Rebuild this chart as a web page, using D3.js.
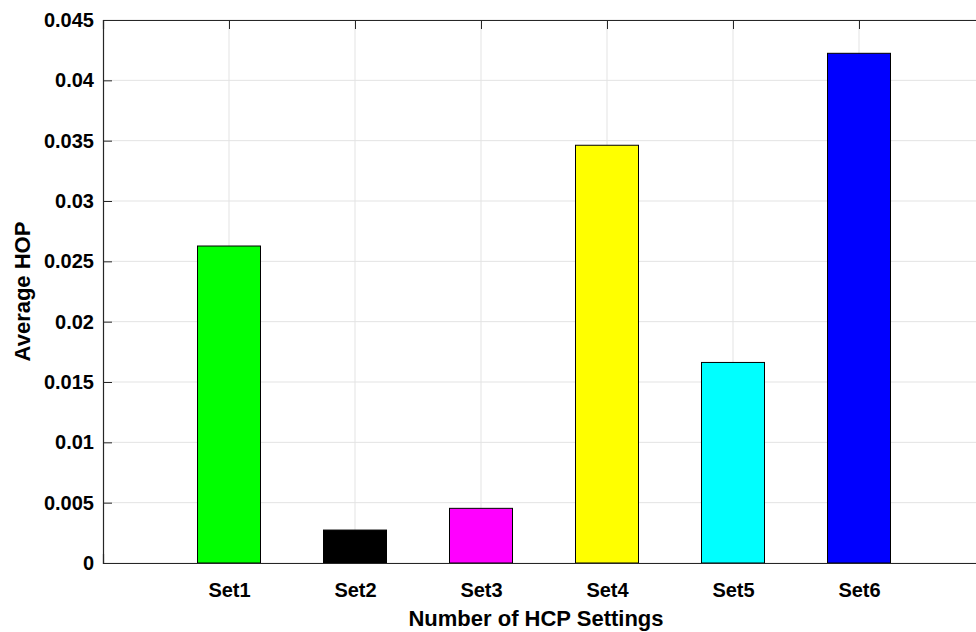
<!DOCTYPE html>
<html>
<head>
<meta charset="utf-8">
<script src="https://d3js.org/d3.v7.min.js"></script>
<style>
    body { margin: 0; background: #fff; }
    svg { display: block; }
    text { font-family: "Liberation Sans", Arial, Helvetica, sans-serif; font-weight: bold; fill: #000; }
</style>
</head>
<body>
<div id="hopChart"></div>
<script>

let setNames = ["Set1", "Set2", "Set3", "Set4", "Set5", "Set6"];
let avgHop = [0.02627, 0.00273, 0.00453, 0.03462, 0.01662, 0.04224];
let barColors = ["#00ff00", "#000000", "#ff00ff", "#ffff00", "#00ffff", "#0000ff"];
let yTicks = [0, 0.005, 0.01, 0.015, 0.02, 0.025, 0.03, 0.035, 0.04, 0.045];

drawChart();

function drawChart() {
    let width = 976;
    let height = 632;

    // plot box (right side runs off the window like in the original)
    let left = 103, right = 985, top = 20, bottom = 563;

    let svg = d3.select("#hopChart")
        .append("svg")
        .attr("width", width)
        .attr("height", height);

    let xScale = d3.scaleLinear()
        .domain([0, setNames.length + 1])
        .range([left, right]);

    let yScale = d3.scaleLinear()
        .domain([0, 0.045])
        .range([bottom, top]);

    let xPos = setNames.map(function(d, i) { return i + 1; });

    // grid
    svg.append("g")
        .selectAll("line")
        .data(yTicks)
        .enter()
        .append("line")
        .attr("x1", left).attr("x2", right)
        .attr("y1", function(d) { return yScale(d); })
        .attr("y2", function(d) { return yScale(d); })
        .attr("stroke", "#e3e3e3")
        .attr("stroke-width", 1);

    svg.append("g")
        .selectAll("line")
        .data(xPos)
        .enter()
        .append("line")
        .attr("y1", top).attr("y2", bottom)
        .attr("x1", function(d) { return xScale(d); })
        .attr("x2", function(d) { return xScale(d); })
        .attr("stroke", "#e3e3e3")
        .attr("stroke-width", 1);

    // bars
    let barWidth = xScale(0.5) - xScale(0);
    svg.selectAll("rect.bar")
        .data(avgHop)
        .enter()
        .append("rect")
        .attr("class", "bar")
        .attr("x", function(d, i) { return xScale(i + 1) - barWidth / 2; })
        .attr("y", function(d) { return yScale(d); })
        .attr("width", barWidth)
        .attr("height", function(d) { return yScale(0) - yScale(d); })
        .style("fill", function(d, i) { return barColors[i]; })
        .style("stroke", "#000")
        .style("stroke-width", 1);

    // axes, ticks pointing inward
    let xAxis = d3.axisBottom(xScale)
        .tickValues(xPos)
        .tickFormat(function(d) { return setNames[d - 1]; })
        .tickSize(-9)
        .tickPadding(20);

    let gx = svg.append("g")
        .attr("class", "axis x-axis")
        .attr("transform", "translate(0," + bottom + ")")
        .call(xAxis);
    gx.selectAll("text").style("font-size", "20px");

    let xTop = d3.axisTop(xScale)
        .tickValues(xPos)
        .tickFormat("")
        .tickSize(-9);
    let gxt = svg.append("g")
        .attr("transform", "translate(0," + top + ")")
        .call(xTop);

    let yAxis = d3.axisLeft(yScale)
        .tickValues(yTicks)
        .tickFormat(function(d) { return d3.format("")(+d.toFixed(3)); })
        .tickSize(-9)
        .tickPadding(9);

    let gy = svg.append("g")
        .attr("class", "axis y-axis")
        .attr("transform", "translate(" + left + ",0)")
        .call(yAxis);
    gy.selectAll("text").style("font-size", "20px");

    [gx, gxt, gy].forEach(function(g) {
        g.select(".domain").attr("stroke", "#262626").attr("stroke-width", 1.2);
        g.selectAll(".tick line").attr("stroke", "#262626").attr("stroke-width", 1);
    });
    gx.selectAll(".tick line").remove();

    // axis titles
    svg.append("text")
        .attr("x", (left + right) / 2 - 8)
        .attr("y", 626)
        .attr("text-anchor", "middle")
        .style("font-size", "22px")
        .text("Number of HCP Settings");

    svg.append("text")
        .attr("transform", "translate(30," + ((top + bottom) / 2) + ") rotate(-90)")
        .attr("text-anchor", "middle")
        .style("font-size", "22px")
        .text("Average HOP");
}
</script>
</body>
</html>
